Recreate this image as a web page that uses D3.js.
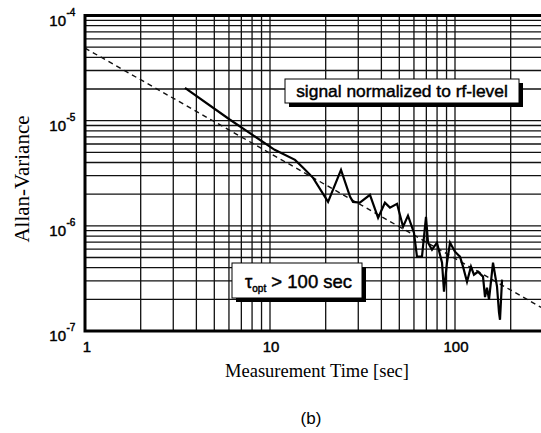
<!DOCTYPE html>
<html><head><meta charset="utf-8">
<script src="https://cdn.jsdelivr.net/npm/d3@7"></script>
<style>body{margin:0;background:#fff}svg{display:block}</style>
</head><body><svg id="c" width="541" height="433"></svg>
<script>
// data: measurement time tau [sec] and Allan variance
const tau = [3.47,6.08,10.6,13.65,15.1,17.1,20.6,24.2,27.1,28.1,30.6,34.7,38.4,41.8,44.5,48.6,52.4,55.7,60.0,62.3,66.3,69.7,71.5,75.1,79.9,85.1,87.2,90.5,94.0,100,106.4,110.5,116.1,122.0,126.6,133.1,141.7,145.3,148.9,152.7,160.5,168.7,172.9,175.1,179.6];
const allan = [2.05e-5,1.02e-5,5.28e-6,4.24e-6,3.56e-6,2.86e-6,1.69e-6,3.41e-6,1.89e-6,1.69e-6,1.66e-6,1.97e-6,1.19e-6,1.66e-6,1.49e-6,1.62e-6,9.8e-7,1.25e-6,8.6e-7,5.09e-7,5.09e-7,1.22e-6,6.91e-7,5.93e-7,6.91e-7,4.46e-7,2.37e-7,4.46e-7,6.91e-7,5.68e-7,5.09e-7,4.09e-7,2.94e-7,4.09e-7,3.43e-7,3.66e-7,3.29e-7,2.10e-7,2.58e-7,1.99e-7,4.46e-7,2.64e-7,1.50e-7,1.28e-7,3.08e-7];
// dashed fit line: sigma = fitA / tau
const fitTau = [1, 300];
const fitA = 4.9e-5;
const xTicks = [1, 10, 100];
const xTickLabels = ["1", "10", "100"];
const yTicks = [1e-7, 1e-6, 1e-5, 1e-4];
const yTickExp = ["-7", "-6", "-5", "-4"];
const xTitle = "Measurement Time [sec]";
const yTitle = "Allan-Variance";
const note1 = "signal normalized to rf-level";
const panel = "(b)";

const svg = d3.select("#c");
const x = d3.scaleLog().domain([1, 300]).range([85, 85 + 185 * Math.log10(300)]);
const y = d3.scaleLog().domain([1e-7, 1e-4]).range([331, 15.5]);
const sans = "Liberation Sans, Arial, Helvetica, sans-serif";
const serif = "Liberation Serif, Times New Roman, serif";

// grid
const xGrid = [], yGrid = [];
for (let k = 0; k <= 2; k++) for (let m = 1; m <= 9; m++) { const v = m * Math.pow(10, k); if (v > 1 && v <= 300) xGrid.push(v); }
for (let k = -7; k <= -5; k++) for (let m = 1; m <= 9; m++) { const v = m * Math.pow(10, k); if (v > 1e-7 * 1.0001 && v < 1e-4 * 0.9999) yGrid.push(v); }
const g = svg.append("g").attr("stroke", "#111").attr("stroke-width", 1.3);
g.selectAll(".vx").data(xGrid).join("line").attr("x1", d => x(d)).attr("x2", d => x(d)).attr("y1", y(1e-4)).attr("y2", y(1e-7));
g.selectAll(".hy").data(yGrid).join("line").attr("y1", d => y(d)).attr("y2", d => y(d)).attr("x1", x(1)).attr("x2", x(300));

// fit line
svg.append("path")
  .attr("d", d3.line().x(d => x(d)).y(d => y(fitA / d))(fitTau))
  .attr("fill", "none").attr("stroke", "#111").attr("stroke-width", 1.4).attr("stroke-dasharray", "5,4");

// data line
svg.append("path")
  .datum(tau.map((t, i) => [t, allan[i]]))
  .attr("d", d3.line().x(d => x(d[0])).y(d => y(d[1])))
  .attr("fill", "none").attr("stroke", "#000").attr("stroke-width", 2.2).attr("stroke-linejoin", "miter");

// frame
svg.append("rect").attr("x", x(1)).attr("y", y(1e-4)).attr("width", x(300) - x(1)).attr("height", y(1e-7) - y(1e-4))
  .attr("fill", "none").attr("stroke", "#000").attr("stroke-width", 3);

// tick labels
const heavy = s => s.attr("stroke", "#000").attr("stroke-width", 0.45);
svg.selectAll(".xt").data(xTicks).join("text")
  .attr("x", (d, i) => x(d) + (i === 0 ? 2 : 1)).attr("y", 352).attr("text-anchor", "middle")
  .attr("font-family", sans).attr("font-size", 15).text((d, i) => xTickLabels[i]).call(heavy);
const yt = svg.selectAll(".yt").data(yTicks).join("g").attr("transform", d => `translate(0,${y(d)})`);
yt.append("text").attr("x", 66).attr("y", 10).attr("text-anchor", "end").attr("font-family", sans).attr("font-size", 15).text("10").call(heavy);
yt.append("text").attr("x", 66.5).attr("y", 0).attr("font-family", sans).attr("font-size", 10).text((d, i) => yTickExp[i]).call(heavy);

// titles
svg.append("text").attr("x", 317).attr("y", 377).attr("text-anchor", "middle").attr("font-family", serif).attr("font-size", 18.5).text(xTitle);
svg.append("text").attr("transform", "translate(29,179) rotate(-90)").attr("text-anchor", "middle").attr("font-family", serif).attr("font-size", 21).text(yTitle);
svg.append("text").attr("x", 311).attr("y", 424).attr("text-anchor", "middle").attr("font-family", sans).attr("font-size", 17).text(panel);

// annotation boxes
function box(x0, y0, w, h) {
  svg.append("rect").attr("x", x0 + 4).attr("y", y0 + 4).attr("width", w).attr("height", h).attr("fill", "#000");
  svg.append("rect").attr("x", x0).attr("y", y0).attr("width", w).attr("height", h).attr("fill", "#fff").attr("stroke", "#000").attr("stroke-width", 1);
}
box(285, 79, 234, 24);
svg.append("text").attr("x", 402).attr("y", 96.5).attr("text-anchor", "middle").attr("font-family", sans).attr("font-size", 17.4).text(note1).call(heavy);
box(232, 263, 130, 35);
const t2 = svg.append("text").attr("x", 245).attr("y", 288).attr("font-family", sans).attr("font-size", 18.5).call(heavy);
t2.append("tspan").text("τ");
t2.append("tspan").attr("font-size", 10).attr("dy", 4).text("opt");
t2.append("tspan").attr("dy", -4).text(" > 100 sec");
</script></body></html>
